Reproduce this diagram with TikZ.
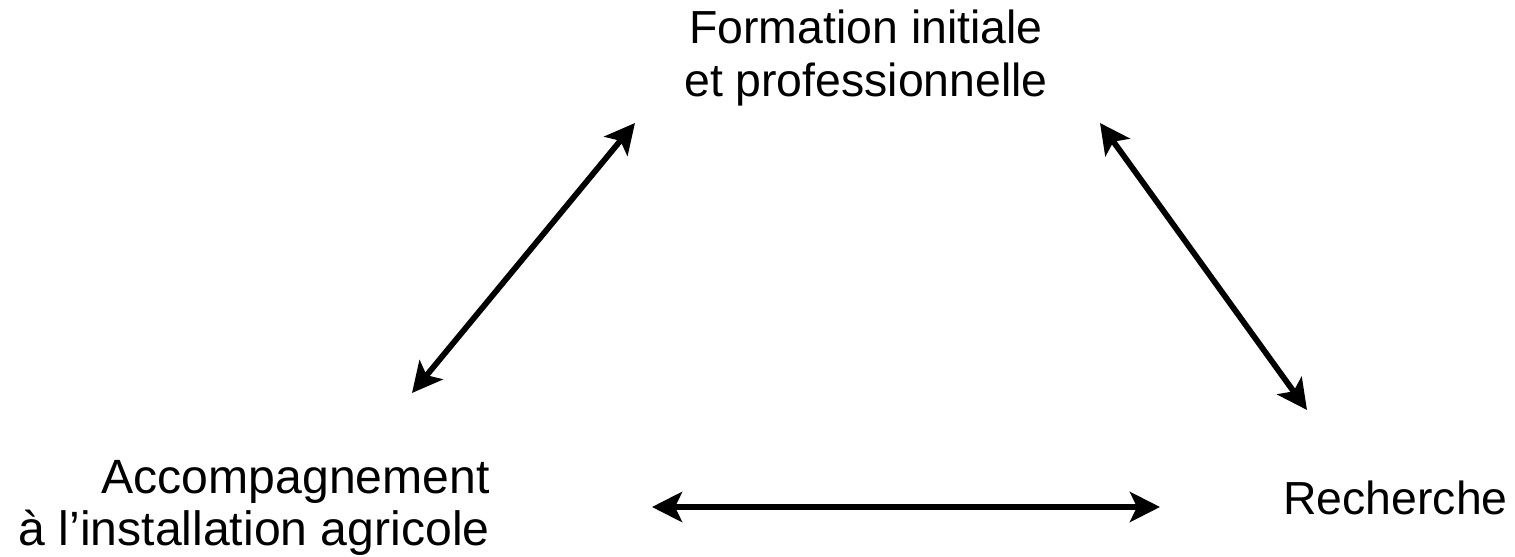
\documentclass[tikz,border=0pt]{standalone}
\usepackage{fontspec}
\setmainfont{Liberation Sans}
\usetikzlibrary{arrows.meta}
\begin{document}
\begin{tikzpicture}[x=0.02cm,y=-0.02cm,
  lbl/.style={inner sep=0pt,font=\fontsize{26.4pt}{30.7pt}\selectfont},
  lblbig/.style={inner sep=0pt,font=\fontsize{27.4pt}{29.5pt}\selectfont},
  biarrow/.style={line width=3.3pt,{Stealth[length=0.6cm,width=0.6cm,inset=0.14cm]}-{Stealth[length=0.6cm,width=0.6cm,inset=0.14cm]}}]
\useasboundingbox (0,0) rectangle (1515,557);
\node[lbl,align=center,anchor=base] (form) at (866,97) {Formation initiale\\et professionnelle};
\node[lblbig,align=right,anchor=base east] (acc) at (490,545) {Accompagnement\\à l’installation agricole};
\node[lbl,anchor=base west] (rech) at (1283,514) {Recherche};
\coordinate (l1) at (412,393);
\coordinate (l2) at (635,123);
\coordinate (r1) at (1100,123);
\coordinate (r2) at (1307,410);
\coordinate (h1) at (652,507);
\coordinate (h2) at (1160,507);
\draw[biarrow] (l1) -- (l2);
\draw[biarrow] (r1) -- (r2);
\draw[biarrow] (h1) -- (h2);
\end{tikzpicture}
\end{document}
